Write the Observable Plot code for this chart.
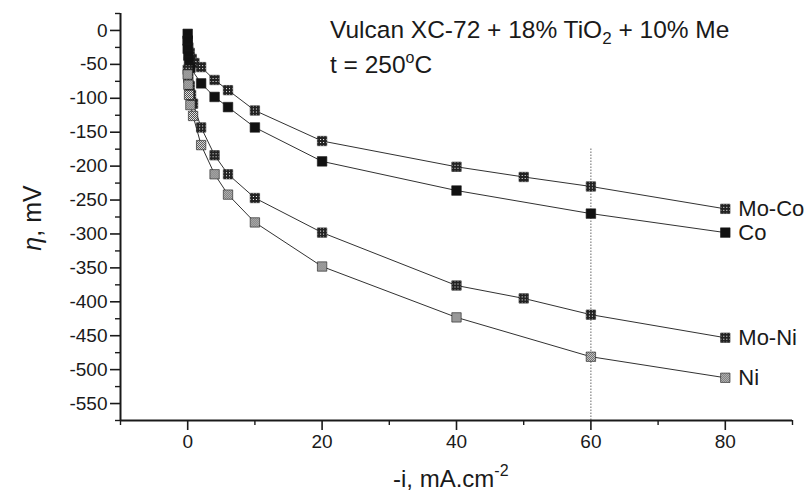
<!DOCTYPE html>
<html><head><meta charset="utf-8">
<script src="https://cdn.jsdelivr.net/npm/d3@7"></script>
<script src="https://cdn.jsdelivr.net/npm/@observablehq/plot@0.6"></script>
<style>
body{margin:0;background:#fff;}
#chart{width:805px;height:494px;}
</style></head><body><div id="chart"></div>
<script>
// ---- data ----
const moCoX = [0, 0.1, 0.3, 0.6, 1, 2, 4, 6, 10, 20, 40, 50, 60, 80];
const moCoY = [-15, -25, -33, -42, -48, -54, -73, -88, -118, -163, -201, -216, -230, -263];
const coX = [0, 0, 0, 0.1, 0.2, 0.4, 2, 4, 6, 10, 20, 40, 60, 80];
const coY = [-5, -15, -27, -37, -46, -55, -78, -98, -113, -143, -193, -236, -270, -298];
const moNiX = [0, 0.1, 0.3, 0.5, 0.8, 2, 4, 6, 10, 20, 40, 50, 60, 80];
const moNiY = [-58, -70, -82, -95, -108, -143, -184, -212, -247, -298, -376, -395, -419, -453];
const niX = [0, 0.1, 0.2, 0.4, 0.8, 2, 4, 6, 10, 20, 40, 60, 80];
const niY = [-65, -80, -95, -110, -126, -169, -212, -242, -283, -348, -423, -481, -512];
const seriesNames = ["Mo-Co", "Co", "Mo-Ni", "Ni"];
const xMajor = [0, 20, 40, 60, 80];
const xMinor = [-10, 10, 30, 50, 70, 90];
const yMajor = [0, -50, -100, -150, -200, -250, -300, -350, -400, -450, -500, -550];
const yMinor = [25, -25, -75, -125, -175, -225, -275, -325, -375, -425, -475, -525, -575];
const refLineX = [60];

const seriesData = [
  {name: seriesNames[0], xs: moCoX, ys: moCoY, fill: "url(#hatchDark)"},
  {name: seriesNames[1], xs: coX, ys: coY, fill: "#111"},
  {name: seriesNames[2], xs: moNiX, ys: moNiY, fill: "url(#hatchDark)"},
  {name: seriesNames[3], xs: niX, ys: niY, fill: "url(#hatchLight)"}
];
const rows = seriesData.flatMap(s => s.xs.map((x, i) => ({series: s.name, x, y: s.ys[i]})));
const last = seriesData.map(s => ({series: s.name, x: s.xs[s.xs.length - 1], y: s.ys[s.ys.length - 1]}));

const font = "'Liberation Sans', Arial, Helvetica, sans-serif";
const ink = "#1a1a1a";

const marks = [
  Plot.ruleX(refLineX, {y1: -175, y2: -575, stroke: ink, strokeWidth: 1, strokeDasharray: "1,2"}),
  Plot.line(rows, {x: "x", y: "y", z: "series", stroke: ink, strokeWidth: 0.9}),
];
for (const s of seriesData) {
  const d = rows.filter(r => r.series === s.name);
  marks.push(Plot.dot(d, {x: "x", y: "y", symbol: "square", r: s.name === "Co" ? 5.4 : 5.3, fill: s.fill, stroke: ink, strokeWidth: 0.6}));
}
marks.push(
  Plot.text(last, {x: "x", y: "y", text: "series", dx: 13, textAnchor: "start", fontSize: 22, fill: ink}),
  Plot.axisX({ticks: xMajor, tickSize: 10, tickPadding: 4, strokeWidth: 1.6, fontSize: 19, tickFormat: d => String(d), label: null}),
  Plot.axisX({ticks: xMinor, tickSize: 5, strokeWidth: 1.4, tickFormat: () => "", label: null}),
  Plot.axisY({ticks: yMajor, tickSize: 10, tickPadding: 3, strokeWidth: 1.6, fontSize: 19, tickFormat: d => String(d), label: null}),
  Plot.axisY({ticks: yMinor, tickSize: 5, strokeWidth: 1.4, tickFormat: () => "", label: null}),
  Plot.ruleX([-10], {stroke: ink, strokeWidth: 2}),
  Plot.ruleY([-575], {stroke: ink, strokeWidth: 2})
);

const chart = Plot.plot({
  width: 805, height: 494,
  marginLeft: 120, marginRight: 13, marginTop: 13, marginBottom: 74,
  x: {domain: [-10, 90]},
  y: {domain: [-575, 25]},
  style: {fontFamily: font, color: ink, background: "#fff"},
  marks
});
document.getElementById("chart").appendChild(chart);

const svg = d3.select(chart);
svg.insert("defs", ":first-child").html(`
  <pattern id="hatchDark" width="3" height="3" patternUnits="userSpaceOnUse">
    <rect width="3" height="3" fill="#222"/><rect x="1" y="1" width="1" height="1" fill="#fff"/>
  </pattern>
  <pattern id="hatchLight" width="2" height="2" patternUnits="userSpaceOnUse">
    <rect width="2" height="2" fill="#fff"/><rect width="1" height="1" fill="#333"/><rect x="1" y="1" width="1" height="1" fill="#333"/>
  </pattern>`);

const t = svg.append("g").attr("font-family", font).attr("fill", ink).attr("text-anchor", "start");
const l1 = t.append("text").attr("x", 330).attr("y", 38).attr("font-size", 24.5);
l1.append("tspan").text("Vulcan XC-72 + 18% TiO");
l1.append("tspan").attr("dy", 6).attr("font-size", 17).text("2");
l1.append("tspan").attr("dy", -6).text(" + 10% Me");
const l2 = t.append("text").attr("x", 330).attr("y", 73).attr("font-size", 24.5);
l2.append("tspan").text("t = 250");
l2.append("tspan").attr("dy", -10).attr("font-size", 16).text("o");
l2.append("tspan").attr("dy", 10).text("C");
const yl = t.append("text").attr("transform", "translate(32,218) rotate(-90)").attr("text-anchor", "middle").attr("dominant-baseline", "central").attr("font-size", 25);
yl.append("tspan").attr("font-style", "italic").text("η");
yl.append("tspan").text(", mV");
const xl = t.append("text").attr("x", 393).attr("y", 487).attr("font-size", 24);
xl.append("tspan").text("-i, mA.cm");
xl.append("tspan").attr("dy", -11).attr("font-size", 16).text("-2");
</script></body></html>
